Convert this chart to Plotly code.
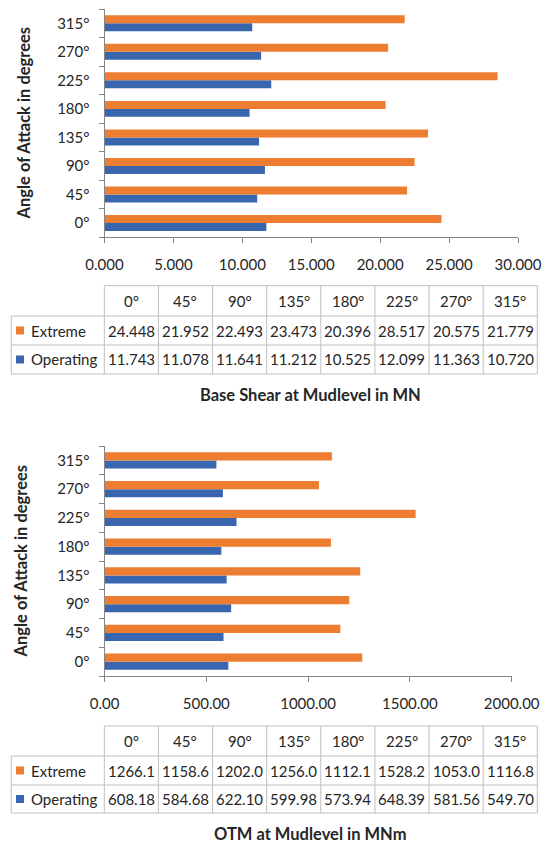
import plotly.graph_objects as go

# ---- data -------------------------------------------------------------
angles = ["0°", "45°", "90°", "135°", "180°", "225°", "270°", "315°"]

shear_extreme = [24.448, 21.952, 22.493, 23.473, 20.396, 28.517, 20.575, 21.779]
shear_operating = [11.743, 11.078, 11.641, 11.212, 10.525, 12.099, 11.363, 10.720]

otm_extreme = [1266.1, 1158.6, 1202.0, 1256.0, 1112.1, 1528.2, 1053.0, 1116.8]
otm_operating = [608.18, 584.68, 622.10, 599.98, 573.94, 648.39, 581.56, 549.70]

series_names = ["Extreme", "Operating"]
shear_ticks = [0, 5, 10, 15, 20, 25, 30]
otm_ticks = [0, 500, 1000, 1500, 2000]

# ---- styling ----------------------------------------------------------
W, H = 546, 844
ORANGE = "#ED7D31"
BLUE = "#3A66AF"
AXIS = "#868686"
GRID = "#BFBFBF"
TEXT = "#262626"
FONT = "Lato"


def px(x):
    return x / W


def py(y):
    return 1 - y / H


fig = go.Figure()

# Operating first so it sits below Extreme inside each category slot
for xa, ya, ext, op in [("x", "y", shear_extreme, shear_operating),
                        ("x2", "y2", otm_extreme, otm_operating)]:
    fig.add_trace(go.Bar(x=op, y=angles, orientation="h", name=series_names[1],
                         marker=dict(color=BLUE, line=dict(width=0)),
                         xaxis=xa, yaxis=ya, showlegend=False))
    fig.add_trace(go.Bar(x=ext, y=angles, orientation="h", name=series_names[0],
                         marker=dict(color=ORANGE, line=dict(width=0)),
                         xaxis=xa, yaxis=ya, showlegend=False))

common_x = dict(showgrid=False, zeroline=False, showline=True, linecolor=AXIS,
                linewidth=1, ticks="outside", ticklen=5, tickcolor=AXIS,
                tickfont=dict(family=FONT, size=15, color=TEXT),
                ticklabelstandoff=9, automargin=False, fixedrange=True)
common_y = dict(type="category", categoryorder="array", categoryarray=angles,
                range=[-0.5, 7.5], showgrid=False, zeroline=False, showline=True,
                linecolor=AXIS, linewidth=1, ticks="outside", ticklen=5,
                tickcolor=AXIS, tickson="boundaries",
                tickfont=dict(family=FONT, size=15, color=TEXT),
                ticklabelstandoff=11, automargin=False, fixedrange=True)

# pixel frames of the two plot areas
top = dict(x0=104.5, x1=518, y0=9, y1=237.3)
bot = dict(x0=104.5, x1=511.7, y0=446, y1=676)

fig.update_layout(
    width=W, height=H,
    margin=dict(l=0, r=0, t=0, b=0, autoexpand=False),
    paper_bgcolor="white", plot_bgcolor="white",
    barmode="group", bargap=0.44, bargroupgap=0,
    font=dict(family=FONT, color=TEXT),
    xaxis=dict(common_x, domain=[px(top["x0"]), px(top["x1"])], anchor="y",
               range=[0, 30], tickvals=shear_ticks, tickformat=".3f"),
    yaxis=dict(common_y, domain=[py(top["y1"]), py(top["y0"])], anchor="x"),
    xaxis2=dict(common_x, domain=[px(bot["x0"]), px(bot["x1"])], anchor="y2",
                range=[0, 2000], tickvals=otm_ticks, tickformat=".2f"),
    yaxis2=dict(common_y, domain=[py(bot["y1"]), py(bot["y0"])], anchor="x2"),
)

shapes = []
annotations = []

# rotated axis titles
for cx, cy in [(23.5, 123), (20.5, 561)]:
    annotations.append(dict(x=px(cx), y=py(cy), xref="paper", yref="paper",
                            text="<b>Angle of Attack in degrees</b>", textangle=-90,
                            showarrow=False, xanchor="center", yanchor="middle",
                            font=dict(family=FONT, size=16.5, color=TEXT)))


def data_table(rows_y, ext_vals, op_vals, ext_fmt, op_fmt):
    left, first, right = 11.3, 104.3, 537.3
    colw = (right - first) / len(angles)
    r0, r1, r2, r3 = rows_y
    line = dict(color=GRID, width=1)
    # horizontal rules
    shapes.append(dict(type="line", xref="paper", yref="paper", x0=px(first), x1=px(right),
                       y0=py(r0), y1=py(r0), line=line))
    for ry in (r1, r2, r3):
        shapes.append(dict(type="line", xref="paper", yref="paper", x0=px(left), x1=px(right),
                           y0=py(ry), y1=py(ry), line=line))
    # vertical rules
    shapes.append(dict(type="line", xref="paper", yref="paper", x0=px(left), x1=px(left),
                       y0=py(r1), y1=py(r3), line=line))
    for k in range(len(angles) + 1):
        xx = first + k * colw
        shapes.append(dict(type="line", xref="paper", yref="paper", x0=px(xx), x1=px(xx),
                           y0=py(r0), y1=py(r3), line=line))
    # header and values
    tf = dict(family=FONT, size=15, color=TEXT)
    for k, ang in enumerate(angles):
        cx = first + (k + 0.5) * colw
        annotations.append(dict(x=px(cx), y=py((r0 + r1) / 2), xref="paper", yref="paper",
                                text=ang, showarrow=False, xanchor="center",
                                yanchor="middle", font=tf))
        annotations.append(dict(x=px(cx), y=py((r1 + r2) / 2), xref="paper", yref="paper",
                                text=format(ext_vals[k], ext_fmt), showarrow=False,
                                xanchor="center", yanchor="middle", font=tf))
        annotations.append(dict(x=px(cx), y=py((r2 + r3) / 2), xref="paper", yref="paper",
                                text=format(op_vals[k], op_fmt), showarrow=False,
                                xanchor="center", yanchor="middle", font=tf))
    # legend keys in the row headers
    for (ya, yb), name, col in [((r1, r2), series_names[0], ORANGE),
                                ((r2, r3), series_names[1], BLUE)]:
        cy = (ya + yb) / 2
        shapes.append(dict(type="rect", xref="paper", yref="paper",
                           x0=px(16), x1=px(24), y0=py(cy + 4), y1=py(cy - 4),
                           fillcolor=col, line=dict(width=0)))
        annotations.append(dict(x=px(28.5), y=py(cy), xref="paper", yref="paper",
                                text=name, showarrow=False, xanchor="left",
                                yanchor="middle", font=tf))


data_table((285.7, 316, 345, 374), shear_extreme, shear_operating, ".3f", ".3f")
data_table((726, 756, 785, 813), otm_extreme, otm_operating, ".1f", ".2f")

# chart titles below each table
for text, cy in [("Base Shear at Mudlevel in MN", 394.5), ("OTM at Mudlevel in MNm", 834)]:
    annotations.append(dict(x=px(310), y=py(cy), xref="paper", yref="paper",
                            text=f"<b>{text}</b>", showarrow=False, xanchor="center",
                            yanchor="middle", font=dict(family=FONT, size=16.5, color=TEXT)))

fig.update_layout(shapes=shapes, annotations=annotations)

fig.write_html("out.html")
